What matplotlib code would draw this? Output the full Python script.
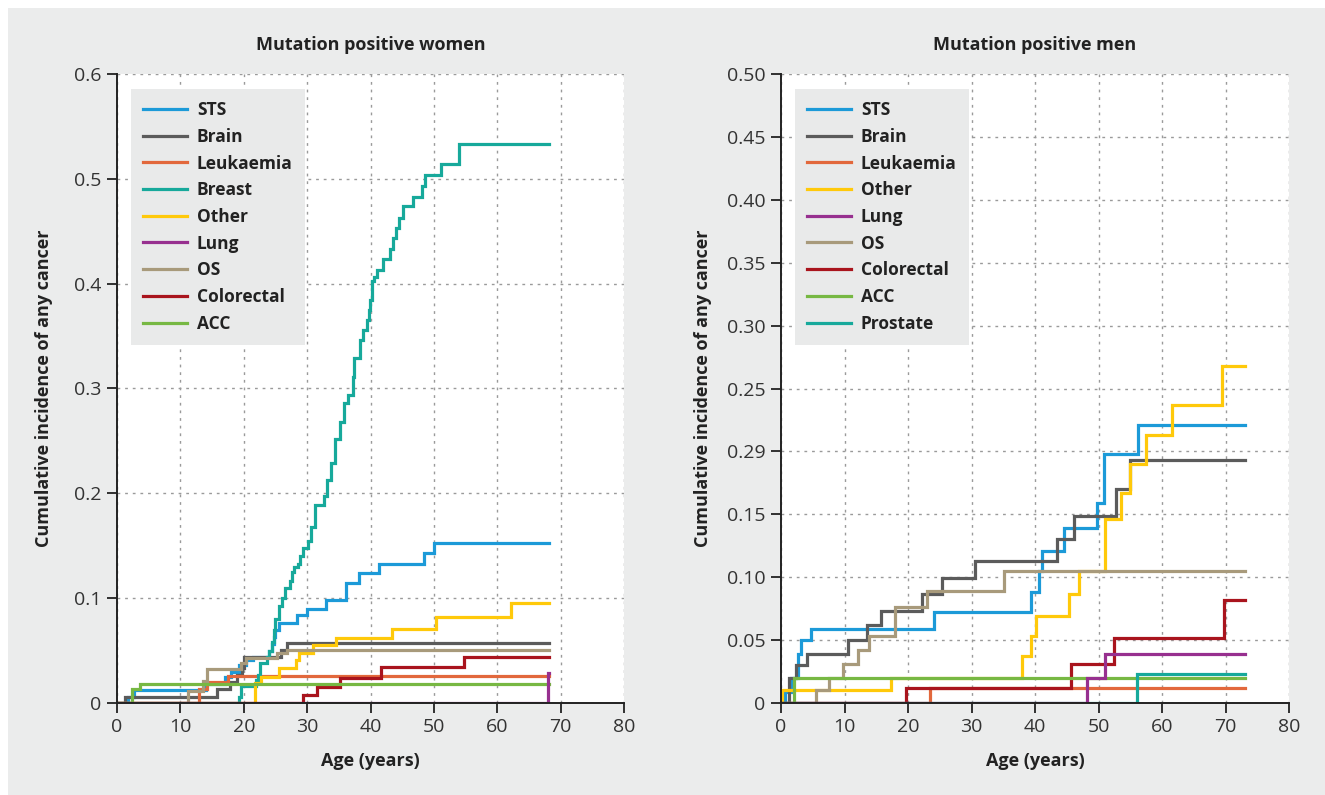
import matplotlib
matplotlib.use("Agg")
import matplotlib.pyplot as plt
from matplotlib.patches import Rectangle

plt.rcParams['font.family'] = ['Open Sans', 'DejaVu Sans']

# ---- data (age in years, cumulative incidence) ----
women_end = 68.2
men_end = 73.0

# women
sts_w_t = [0, 1.8, 2.7, 14.0, 17.0, 18.0, 19.2, 20.3, 21.5, 24.0, 24.5, 24.8, 25.0, 25.5, 28.4, 30.0, 32.9, 36.1, 38.2, 41.3, 48.5, 50.0]
sts_w_v = [0, 0.006, 0.012, 0.018, 0.025, 0.030, 0.036, 0.041, 0.044, 0.050, 0.056, 0.063, 0.070, 0.076, 0.084, 0.090, 0.098, 0.114, 0.124, 0.133, 0.143, 0.153]
brain_w_t = [0, 1.2, 15.8, 17.9, 18.9, 19.7, 20.0, 25.8, 26.8]
brain_w_v = [0, 0.006, 0.013, 0.020, 0.027, 0.033, 0.044, 0.051, 0.057]
leuk_w_t = [0, 12.9, 14.2, 17.5]
leuk_w_v = [0, 0.013, 0.020, 0.026]
breast_w_t = [0, 19.2, 19.6, 21.9, 22.2, 22.6, 23.6, 24.0, 24.4, 24.7,
              25.0, 25.5, 26.0, 26.5, 27.3, 27.6, 28.0, 28.5, 28.9, 29.4,
              30.1, 30.6, 31.3, 32.6, 33.1, 33.7, 34.4, 35.2, 35.8, 36.5,
              37.2, 37.4, 38.4, 38.8, 39.4, 39.7, 39.9, 40.2, 40.6, 41.0,
              42.0, 43.1, 43.5, 44.0, 44.5, 45.1, 46.7, 48.1, 48.6, 51.2, 54.0]
breast_w_v = [0, 0.006, 0.016, 0.022, 0.027, 0.038, 0.044, 0.050, 0.058, 0.070,
              0.080, 0.093, 0.100, 0.110, 0.116, 0.125, 0.130, 0.133, 0.140, 0.148,
              0.155, 0.168, 0.189, 0.197, 0.213, 0.229, 0.252, 0.268, 0.286, 0.294,
              0.311, 0.329, 0.346, 0.356, 0.365, 0.375, 0.384, 0.403, 0.406, 0.413,
              0.424, 0.433, 0.444, 0.453, 0.463, 0.474, 0.483, 0.493, 0.504, 0.514, 0.533]
other_w_t = [0, 21.8, 22.8, 25.5, 28.2, 28.7, 31.0, 34.5, 43.4, 50.3, 62.1]
other_w_v = [0, 0.019, 0.025, 0.033, 0.041, 0.048, 0.055, 0.062, 0.071, 0.082, 0.095]
lung_w_t = [0, 68.0]
lung_w_v = [0, 0.029]
os_w_t = [0, 11.2, 13.6, 14.2, 19.5, 20.3, 25.3, 26.8]
os_w_v = [0, 0.011, 0.021, 0.032, 0.038, 0.043, 0.048, 0.051]
colo_w_t = [0, 29.4, 31.5, 35.2, 41.6, 54.7]
colo_w_v = [0, 0.008, 0.015, 0.024, 0.034, 0.044]
acc_w_t = [0, 2.4, 3.7]
acc_w_v = [0, 0.013, 0.018]

# men
sts_m_t = [0, 0.6, 1.5, 2.7, 3.1, 4.8, 24.1, 39.4, 40.6, 41.1, 44.6, 49.8, 50.8, 56.2]
sts_m_v = [0, 0.009, 0.020, 0.039, 0.050, 0.059, 0.072, 0.088, 0.105, 0.121, 0.139, 0.159, 0.198, 0.221]
brain_m_t = [0, 1.3, 2.3, 4.1, 10.6, 13.6, 15.8, 22.2, 25.3, 30.6, 43.4, 46.1, 52.7, 55.0]
brain_m_v = [0, 0.020, 0.030, 0.039, 0.050, 0.062, 0.073, 0.087, 0.099, 0.113, 0.130, 0.149, 0.170, 0.193]
leuk_m_t = [0, 23.4]
leuk_m_v = [0, 0.012]
other_m_t = [0, 0.1, 17.4, 37.9, 39.3, 40.1, 45.4, 46.9, 51.0, 53.6, 55.0, 57.5, 61.5, 69.5]
other_m_v = [0, 0.010, 0.020, 0.037, 0.053, 0.069, 0.087, 0.105, 0.146, 0.167, 0.190, 0.213, 0.237, 0.268]
lung_m_t = [0, 48.2, 51.1]
lung_m_v = [0, 0.020, 0.039]
os_m_t = [0, 5.5, 7.5, 9.7, 12.2, 13.9, 17.9, 23.0, 35.1]
os_m_v = [0, 0.010, 0.020, 0.031, 0.042, 0.053, 0.076, 0.089, 0.105]
colo_m_t = [0, 19.7, 45.6, 52.4, 69.7]
colo_m_v = [0, 0.012, 0.031, 0.052, 0.082]
acc_m_t = [0, 2.0]
acc_m_v = [0, 0.020]
prost_m_t = [0, 56.1]
prost_m_v = [0, 0.023]

women_yticks = [0, 0.1, 0.2, 0.3, 0.4, 0.5, 0.6]
women_ylabels = ["0", "0.1", "0.2", "0.3", "0.4", "0.5", "0.6"]
men_yticks = [0, 0.05, 0.10, 0.15, 0.20, 0.25, 0.30, 0.35, 0.40, 0.45, 0.50]
men_ylabels = ["0", "0.05", "0.10", "0.15", "0.29", "0.25", "0.30", "0.35", "0.40", "0.45", "0.50"]
xticks = [0, 10, 20, 30, 40, 50, 60, 70, 80]

colors = {"STS": "#1c9ad8", "Brain": "#5b5b5b", "Leukaemia": "#e2683c",
          "Breast": "#17a99b", "Other": "#ffc90a", "Lung": "#97308f",
          "OS": "#a89a7b", "Colorectal": "#a9141d", "ACC": "#77b843",
          "Prostate": "#17a99b"}

women = [("STS", sts_w_t, sts_w_v), ("Brain", brain_w_t, brain_w_v),
         ("Leukaemia", leuk_w_t, leuk_w_v), ("Breast", breast_w_t, breast_w_v),
         ("Other", other_w_t, other_w_v), ("Lung", lung_w_t, lung_w_v),
         ("OS", os_w_t, os_w_v), ("Colorectal", colo_w_t, colo_w_v),
         ("ACC", acc_w_t, acc_w_v)]
men = [("STS", sts_m_t, sts_m_v), ("Brain", brain_m_t, brain_m_v),
       ("Leukaemia", leuk_m_t, leuk_m_v), ("Other", other_m_t, other_m_v),
       ("Lung", lung_m_t, lung_m_v), ("OS", os_m_t, os_m_v),
       ("Colorectal", colo_m_t, colo_m_v), ("ACC", acc_m_t, acc_m_v),
       ("Prostate", prost_m_t, prost_m_v)]

W, H = 1325, 795
fig = plt.figure(figsize=(W / 100, H / 100), dpi=100, facecolor="white")
# grey page with thin white margin top/left
fig.patches.append(Rectangle((8 / W, 0), 1, (H - 8) / H, transform=fig.transFigure,
                             facecolor="#ebecec", edgecolor="none", zorder=-10))

ax_w = fig.add_axes([117 / W, (H - 703) / H, (624 - 117) / W, (703 - 74) / H])
ax_m = fig.add_axes([781 / W, (H - 703) / H, (1289 - 781) / W, (703 - 74) / H])


def draw_panel(ax, series, end, title, yticks, ylabels, ymax, ylabelpad):
    ax.set_facecolor("white")
    for i, (name, t, v) in enumerate(series):
        ts = list(t) + [end]
        vs = list(v) + [v[-1]]
        z = 5 if name == "Lung" else 2 + i * 0.1
        ax.step(ts, vs, where="post", color=colors[name], lw=2.3, label=name,
                zorder=z, solid_joinstyle="miter")
    ax.set_xlim(0, 80)
    ax.set_ylim(0, ymax)
    ax.set_xticks(xticks)
    ax.set_yticks(yticks)
    ax.set_yticklabels(ylabels)
    for s in ["top", "right"]:
        ax.spines[s].set_visible(False)
    for s in ["left", "bottom"]:
        ax.spines[s].set_linewidth(1.4)
        ax.spines[s].set_color("#222222")
        ax.spines[s].set_zorder(6)
    ax.tick_params(direction="out", length=7, width=1.3, color="#222222",
                   labelsize=14, labelcolor="#333333", pad=4)
    ax.grid(True, color="#9a9a9a", linestyle=(0, (2, 3.5)), linewidth=1)
    ax.set_axisbelow(True)
    ax.set_title(title, fontsize=13, fontweight="bold", color="#222222", pad=17)
    ax.set_xlabel("Age (years)", fontsize=13, fontweight="bold", color="#222222", labelpad=11)
    ax.set_ylabel("Cumulative incidence of any cancer", fontsize=13, fontweight="bold",
                  color="#222222", labelpad=ylabelpad)
    leg = ax.legend(loc="upper left", bbox_to_anchor=(14 / 507, 1 - 15 / 629),
                    borderaxespad=0, frameon=True, fancybox=False,
                    facecolor="#e9eaea", edgecolor="none", framealpha=1,
                    prop={"weight": "bold", "size": 12.5}, handlelength=2.5,
                    handletextpad=0.6, labelspacing=0.5, borderpad=0.7)
    leg.set_zorder(7)
    for txt in leg.get_texts():
        txt.set_color("#222222")


draw_panel(ax_w, women, women_end, "Mutation positive women", women_yticks, women_ylabels, 0.6, 15)
draw_panel(ax_m, men, men_end, "Mutation positive men", men_yticks, men_ylabels, 0.5, 11)

fig.savefig("out.png", dpi=100, facecolor=fig.get_facecolor())
